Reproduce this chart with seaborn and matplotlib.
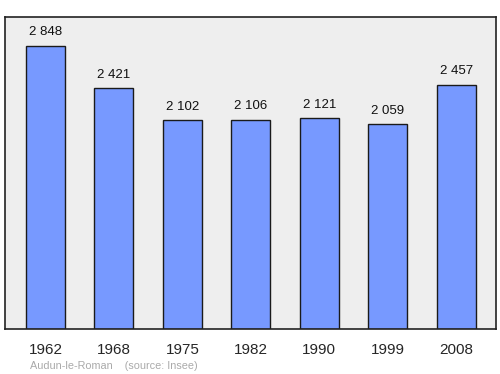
import matplotlib
matplotlib.use("Agg")
import matplotlib.pyplot as plt
import seaborn as sns
import pandas as pd

years = ["1962", "1968", "1975", "1982", "1990", "1999", "2008"]
population = [2848, 2421, 2102, 2106, 2121, 2059, 2457]
source_text = "Audun-le-Roman    (source: Insee)"

sns.set_style("white")
plt.rcParams['font.family'] = ['Liberation Sans', 'DejaVu Sans']

df = pd.DataFrame({"year": years, "pop": population})

fig = plt.figure(figsize=(5, 3.74), dpi=100)
ax = fig.add_axes([0.01, 0.1203, 0.982, 0.8342])
ax.set_facecolor("#eeeeee")
sns.barplot(data=df, x="year", y="pop", ax=ax, color="#7799ff", saturation=1,
            width=0.57, edgecolor="#1a1a1a", linewidth=1)
ax.set_xlim(-0.59, 6.58)
ax.set_ylim(0, 3140)
for i, v in enumerate(population):
    ax.annotate(f"{v:,}".replace(",", " "), (i, v), xytext=(0, 5.5), textcoords="offset points",
                ha="center", va="bottom", fontsize=9.5, color="#111111")
ax.set_xlabel("")
ax.set_ylabel("")
ax.set_yticks([])
ax.tick_params(axis="x", length=0, labelsize=11, pad=10)
for s in ax.spines.values():
    s.set_color("#222222")
    s.set_linewidth(1.2)
fig.text(0.06, 0.014, source_text, fontsize=7.8, color="#aaaaaa")
fig.savefig("out.png", dpi=100)
